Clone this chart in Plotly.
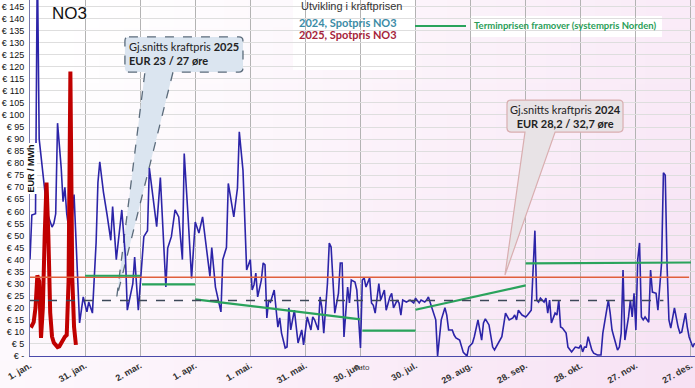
import plotly.graph_objects as go

# ---------------- data ----------------
tick_days = [0, 30, 60, 90, 120, 150, 180, 210, 240, 270, 300, 330, 360]
tick_labels = ["1. jan.", "31. jan.", "2. mar.", "1. apr.", "1. mai.", "31. mai.", "30. jun.",
               "30. jul.", "29. aug.", "28. sep.", "28. okt.", "27. nov.", "27. des."]
y_ticks = list(range(0, 150, 5))
y_tick_labels = ["€ -"] + [f"€ {v}" for v in y_ticks[1:]]

# 2024 spot price NO3 (EUR/MWh), day offset from 1 Jan
days_2024 = [0, 1, 3, 4, 5, 7, 9, 10, 12, 13, 14, 15, 17, 18, 19, 20, 22, 24, 27, 29,
             31, 32, 34, 36, 37, 38, 40, 42, 44, 45, 47, 50, 52, 53, 56, 57, 59, 62, 64, 65,
             67, 69, 71, 74, 75, 77, 79, 81, 83, 84, 86, 88, 90, 92, 94, 95, 98, 99, 101, 104,
             105, 107, 108, 111, 113, 114, 116, 118, 120, 121, 122, 123, 124, 126, 127, 128, 129, 130, 131, 133,
             134, 135, 136, 137, 139, 140, 141, 142, 144, 145, 146, 148, 149, 151, 153, 154, 155, 157, 158, 159,
             160, 162, 163, 164, 165, 166, 168, 169, 170, 171, 173, 174, 175, 177, 178, 180, 181, 182, 183, 185,
             186, 187, 188, 190, 191, 193, 194, 196, 197, 198, 200, 201, 202, 203, 205, 207, 209, 210, 212, 213,
             215, 216, 217, 218, 220, 221, 222, 224, 226, 227, 228, 230, 231, 232, 234, 236, 238, 239, 241, 242,
             244, 246, 247, 248, 250, 252, 253, 255, 257, 259, 260, 261, 263, 264, 265, 266, 268, 270, 271, 273,
             275, 276, 277, 278, 280, 281, 282, 283, 284, 286, 287, 288, 289, 290, 292, 293, 295, 297, 299, 300,
             301, 302, 303, 304, 306, 307, 309, 311, 312, 314, 315, 316, 317, 318, 320, 321, 322, 323, 324, 326,
             327, 328, 329, 330, 331, 332, 333, 334, 335, 337, 338, 339, 341, 342, 344, 345, 346, 347, 348, 349,
             351, 353, 354, 355, 357, 358, 359, 361, 362]
spot_2024 = [40, 58.5, 59, 165, 90, 76, 62, 58, 53.5, 55, 59, 96.6, 78, 64, 70, 59, 48, 67, 13.7, 24.5,
             18.3, 22.4, 17.8, 47, 72, 80.6, 68, 58.5, 48, 62, 40, 60.6, 41, 19, 30, 41, 19, 49.5, 52, 78,
             64.7, 53.7, 74, 28.6, 44.8, 49.5, 60.6, 57.7, 40, 84, 59, 32.2, 55.6, 51, 57.7, 51, 33, 45, 28.6, 18.3,
             40, 45, 71.6, 57.7, 69.7, 93, 77, 35.7, 40, 27.4, 29.5, 34.4, 24.5, 31.5, 38.6, 37.8, 15.8, 23.2, 22.4, 27.4,
             17.8, 12, 15.8, 9.5, 3.3, 3.7, 20, 10.8, 19, 10.8, 5.4, 10.8, 4.6, 16.2, 10.8, 16.2, 15, 10.8, 24.5, 20,
             9.5, 30, 46.9, 45.2, 31.5, 17.8, 26, 38.6, 38.6, 7.9, 28.6, 22, 31.5, 30.7, 27.4, 3.3, 31.5, 32.4, 28.6, 32.4,
             22, 21, 17.8, 30, 23.2, 27.4, 19, 24.5, 26, 20, 23.2, 22, 17, 23.2, 22.4, 23.2, 22, 24, 22, 23.2,
             22.4, 23.2, 24.5, 22, 17.8, 15, 0, 15, 20, 17, 10.8, 10.8, 8.7, 7.5, 6.6, 1.5, 0, 3.7, 5.4, 8,
             15, 6.6, 13.7, 15.4, 12.9, 3.7, 2.5, 5.4, 8, 17.8, 16.2, 15, 15.8, 17, 15, 19, 17, 16.2, 17, 19,
             52, 23.2, 22.4, 24, 22.4, 24, 17.8, 23.2, 13.7, 17.8, 17, 23.2, 12, 11.6, 9.5, 3.7, 1.7, 3.7, 3.3, 4.6,
             1.7, 3.7, 3.7, 8, 2.5, 1.2, 0.4, 0.4, 9.5, 20, 23.2, 17.8, 10.8, 8, 2.5, 3.7, 9.5, 35.7, 6.6, 16.2,
             23.2, 16.2, 26, 10.8, 40, 46.9, 16.2, 15, 16.2, 14, 35.7, 26.5, 26, 19, 38.6, 76, 75, 37, 15, 11.6,
             20, 12, 9.5, 10, 17.8, 12, 7.9, 3.7, 5.4]

# 2025 spot price NO3 (EUR/MWh)
days_2025 = list(range(0, 26))
spot_2025 = [13, 12.5, 14, 20, 33.5, 31, 7.5, 20, 50, 72, 50, 18, 8, 5.5, 4.6, 3.7, 4, 5.4, 6.6, 8,
             8.7, 31, 118, 33, 12, 4.6]

# averages
avg_2024 = 32.7
avg_2024_span = [0, 359]
avg_2025 = 23
avg_2025_span = [0, 345]

# forward price (systempris Norden) segments
fwd_start = [30, 61, 90, 181, 210, 270]
fwd_end = [60, 90, 180, 210, 270, 360]
fwd_from = [33.3, 29.7, 23.5, 10.5, 19.2, 38.4]
fwd_to = [33.3, 29.7, 15.2, 10.5, 29.3, 38.8]

# ---------------- figure ----------------
W, H = 695, 388
ML, MR, MT, MB = 30, 0, 0, 32
PW, PH = W - ML - MR, H - MT - MB


def px2x(px):
    return (px - ML) / PW


def py2y(py):
    return (MT + PH - py) / PH


fig = go.Figure()

fig.add_trace(go.Scatter(x=days_2024, y=spot_2024, mode="lines",
                         line=dict(color="#2c24a8", width=1.6), name="2024, Spotpris NO3"))
fig.add_trace(go.Scatter(x=days_2025, y=spot_2025, mode="lines",
                         line=dict(color="#c00000", width=4), name="2025, Spotpris NO3"))
fig.add_trace(go.Scatter(x=avg_2024_span, y=[avg_2024, avg_2024], mode="lines",
                         line=dict(color="#e0603c", width=1.6), name="snitt 2024"))

fx, fy = [], []
for s, e, a, b in zip(fwd_start, fwd_end, fwd_from, fwd_to):
    fx += [s, e, None]
    fy += [a, b, None]
fig.add_trace(go.Scatter(x=fx, y=fy, mode="lines",
                         line=dict(color="#2aa35c", width=2.2), name="Terminpris"))
fig.add_trace(go.Scatter(x=avg_2025_span, y=[avg_2025, avg_2025], mode="lines",
                         line=dict(color="#3c4858", width=1.6, dash="dash"), name="snitt 2025"))

shapes = []

# background gradient (white -> soft pink towards bottom right)
cols, rows = 28, 14
for i in range(cols):
    for j in range(rows):
        x0p = i * W / cols
        x1p = (i + 1) * W / cols + 0.8
        y0p = j * H / rows
        y1p = (j + 1) * H / rows + 0.8
        xn = (i + 0.5) / cols
        yn = (j + 0.5) / rows
        t = max(0.0, min(1.0, 0.8 * xn + 0.35 * yn - 0.12))
        r = round(255 * (1 - t) + 247 * t)
        g = round(255 * (1 - t) + 226 * t)
        b = round(255 * (1 - t) + 244 * t)
        shapes.append(dict(type="rect", xref="paper", yref="paper",
                           x0=px2x(x0p), x1=px2x(x1p), y0=py2y(y1p), y1=py2y(y0p),
                           fillcolor=f"rgb({r},{g},{b})", line=dict(width=0), layer="below"))

# white label boxes
for (a, b_, c, d) in [(42, 0, 86, 27), (293, 0, 415, 70), (470, 16, 662, 37)]:
    shapes.append(dict(type="rect", xref="paper", yref="paper",
                       x0=px2x(a), x1=px2x(c), y0=py2y(d), y1=py2y(b_),
                       fillcolor="white", line=dict(width=0), layer="between"))

# legend line for forward price
shapes.append(dict(type="line", xref="paper", yref="paper",
                   x0=px2x(415), x1=px2x(466), y0=py2y(26), y1=py2y(26),
                   line=dict(color="#2aa35c", width=2.2), layer="above"))


def callout(l, r, t, b, tl, tr, tipx, tipy, rx=2.2, ry=1.66):
    return (f"M {l + rx},{t} L {r - rx},{t} Q {r},{t} {r},{t - ry} L {r},{b + ry} "
            f"Q {r},{b} {r - rx},{b} L {tr},{b} L {tipx},{tipy} L {tl},{b} "
            f"L {l + rx},{b} Q {l},{b} {l},{b + ry} L {l},{t - ry} Q {l},{t} {l + rx},{t} Z")


shapes.append(dict(type="path", xref="x", yref="y",
                   path=callout(51.7, 116.0, 132.4, 117.8, 62.6, 77.9, 47.2, 24.1),
                   fillcolor="#dbe5f0", line=dict(color="#5b6b7b", width=1.3, dash="dash"),
                   layer="between"))
shapes.append(dict(type="path", xref="x", yref="y",
                   path=callout(259.8, 323.0, 106.2, 92.9, 269.6, 286.0, 258.7, 33.6),
                   fillcolor="#e8e3e6", line=dict(color="#d9aeb0", width=1.2),
                   layer="between"))

ann = []
ann.append(dict(xref="paper", yref="paper", x=px2x(50), y=py2y(14), xanchor="left", yanchor="middle",
                text="NO3", showarrow=False,
                font=dict(family="Liberation Sans", size=17, color="#111111")))
ann.append(dict(xref="paper", yref="paper", x=px2x(299), y=py2y(6), xanchor="left", yanchor="middle",
                text="Utvikling i kraftprisen", showarrow=False,
                font=dict(family="Liberation Sans", size=11, color="#333333")))
ann.append(dict(xref="paper", yref="paper", x=px2x(297), y=py2y(22), xanchor="left", yanchor="middle",
                text="<b>2024, Spotpris NO3</b>", showarrow=False,
                font=dict(family="Lato", size=11, color="#3b8ca6")))
ann.append(dict(xref="paper", yref="paper", x=px2x(297), y=py2y(34), xanchor="left", yanchor="middle",
                text="<b>2025, Spotpris NO3</b>", showarrow=False,
                font=dict(family="Lato", size=11, color="#a6243a")))
ann.append(dict(xref="paper", yref="paper", x=px2x(472), y=py2y(26), xanchor="left", yanchor="middle",
                text="<b>Terminprisen framover (systempris Norden)</b>", showarrow=False,
                font=dict(family="Lato", size=9.5, color="#2a9e58")))
ann.append(dict(xref="x", yref="y", x=52.8, y=125.3, xanchor="left", yanchor="middle", align="left",
                text="Gj.snitts kraftpris <b>2025</b><br><b>EUR 23 / 27 øre</b>", showarrow=False,
                font=dict(family="Lato", size=11, color="#222222")))
ann.append(dict(xref="x", yref="y", x=291.4, y=99.5, xanchor="center", yanchor="middle", align="center",
                text="Gj.snitts kraftpris <b>2024</b><br><b>EUR 28,2 / 32,7 øre</b>", showarrow=False,
                font=dict(family="Lato", size=11, color="#222222")))
ann.append(dict(xref="paper", yref="paper", x=px2x(30), y=py2y(168.5), xanchor="center", yanchor="middle",
                text="<b>EUR / MWh</b>", textangle=-90, showarrow=False, bgcolor="white",
                font=dict(family="Liberation Sans", size=9, color="#111111")))
ann.append(dict(xref="paper", yref="paper", x=px2x(361), y=py2y(367), xanchor="center", yanchor="middle",
                text="Auto", showarrow=False,
                font=dict(family="Liberation Sans", size=8, color="#444444")))

fig.update_layout(
    width=W, height=H,
    margin=dict(l=ML, r=MR, t=MT, b=MB, pad=0),
    paper_bgcolor="white", plot_bgcolor="rgba(0,0,0,0)",
    showlegend=False,
    shapes=shapes, annotations=ann,
    xaxis=dict(range=[0, 362.2], tickmode="array", tickvals=tick_days, ticktext=tick_labels,
               tickangle=-30, showgrid=True, gridcolor="#b3b3b3", gridwidth=1,
               showline=True, linecolor="#4a4aaa", linewidth=1.2, zeroline=False,
               ticks="", automargin=False,
               tickfont=dict(family="Liberation Sans", size=9, color="#333333", weight="bold")),
    yaxis=dict(range=[0, 147.7], tickmode="array", tickvals=y_ticks, ticktext=y_tick_labels,
               showgrid=True, gridcolor="#dedede", gridwidth=1,
               showline=True, linecolor="#7a7ab0", linewidth=1, zeroline=False,
               ticks="", automargin=False, ticklabelstandoff=3,
               tickfont=dict(family="Liberation Sans", size=9, color="#111111")),
)

fig.write_html("out.html", config={"displayModeBar": False},
               post_script="document.body.style.margin='0';document.body.style.padding='0';"
                           "document.body.style.overflow='hidden';")
